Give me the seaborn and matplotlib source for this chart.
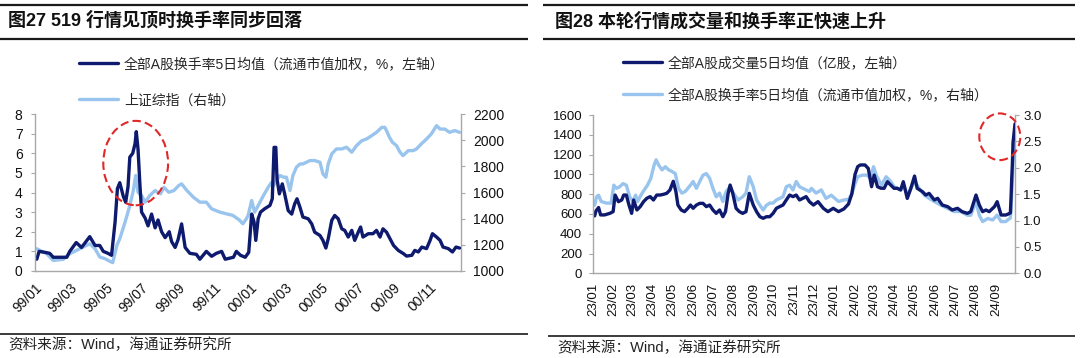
import numpy as np
import pandas as pd
import matplotlib
matplotlib.use("Agg")
import matplotlib.pyplot as plt
import matplotlib.dates as mdates
from matplotlib.patches import Ellipse
from matplotlib.lines import Line2D
import seaborn as sns

# ---------------- data: left panel (1999-2000) ----------------
left_turn_dates = [
    "1999-01-04", "1999-01-08", "1999-01-18", "1999-01-26", "1999-02-01", "1999-02-24",
    "1999-03-01", "1999-03-12", "1999-03-21", "1999-04-04", "1999-04-13", "1999-04-21",
    "1999-04-27", "1999-05-05", "1999-05-11", "1999-05-17", "1999-05-21", "1999-05-25",
    "1999-05-31", "1999-06-04", "1999-06-08", "1999-06-11", "1999-06-16", "1999-06-20",
    "1999-06-22", "1999-06-25", "1999-06-28", "1999-07-01", "1999-07-07", "1999-07-12",
    "1999-07-18", "1999-07-24", "1999-07-29", "1999-08-04", "1999-08-10", "1999-08-17",
    "1999-08-21", "1999-08-27", "1999-09-01", "1999-09-07", "1999-09-13", "1999-09-21",
    "1999-10-02", "1999-10-08", "1999-10-19", "1999-10-28", "1999-11-05", "1999-11-14",
    "1999-11-20", "1999-12-04", "1999-12-09", "1999-12-16", "1999-12-24", "1999-12-30",
    "2000-01-04", "2000-01-08", "2000-01-11", "2000-01-15", "2000-01-19", "2000-01-26",
    "2000-02-04", "2000-02-08", "2000-02-11", "2000-02-14", "2000-02-16", "2000-02-20",
    "2000-02-25", "2000-02-29", "2000-03-06", "2000-03-12", "2000-03-17", "2000-03-21",
    "2000-03-26", "2000-03-31", "2000-04-09", "2000-04-15", "2000-04-20", "2000-04-29",
    "2000-05-04", "2000-05-09", "2000-05-13", "2000-05-19", "2000-05-24", "2000-05-30",
    "2000-06-05", "2000-06-10", "2000-06-16", "2000-06-22", "2000-06-27", "2000-07-03",
    "2000-07-07", "2000-07-11", "2000-07-20", "2000-07-28", "2000-08-03", "2000-08-09",
    "2000-08-14", "2000-08-20", "2000-08-26", "2000-09-01", "2000-09-09", "2000-09-18",
    "2000-09-23", "2000-10-02", "2000-10-07", "2000-10-13", "2000-10-19", "2000-10-27",
    "2000-11-02", "2000-11-06", "2000-11-13", "2000-11-19", "2000-11-24", "2000-12-03",
    "2000-12-10", "2000-12-16", "2000-12-22",
]
left_turn_values = [
    0.6, 1.0, 0.95, 0.9, 0.7, 0.7,
    1.0, 1.45, 1.2, 1.75, 1.3, 1.3,
    1.0, 0.9, 0.8, 2.5, 4.2, 4.5,
    3.8, 3.5, 4.3, 5.8, 6.0, 6.5,
    7.1, 6.2, 4.5, 3.0, 2.7, 2.3,
    2.9, 2.2, 2.6, 2.0, 1.7, 2.0,
    1.5, 1.2, 1.6, 2.4, 1.2, 0.9,
    0.85, 0.6, 1.0, 0.75, 0.9, 1.0,
    0.6, 0.7, 1.0, 0.8, 0.7, 0.95,
    2.9, 2.5, 1.56, 2.66, 3.0, 3.17,
    3.34, 3.68, 6.3, 6.3, 4.7, 3.93,
    4.44, 3.93, 3.08, 2.9, 3.42, 3.68,
    3.25, 2.75, 2.66, 2.4, 1.98, 1.81,
    1.56, 1.17, 1.64, 2.58, 2.83, 2.66,
    2.15, 2.07, 1.73, 2.07, 1.56, 1.98,
    2.24, 1.73, 1.9, 1.9, 2.07, 1.73,
    2.15, 1.98, 1.64, 1.3, 1.05, 0.88,
    0.76, 0.8, 1.05, 0.97, 1.22, 1.14,
    1.56, 1.9, 1.73, 1.56, 1.22, 1.14,
    0.97, 1.22, 1.17,
]
left_index_dates = [
    "1999-01-04", "1999-01-09", "1999-01-21", "1999-01-29", "1999-02-01", "1999-02-18",
    "1999-03-01", "1999-03-18", "1999-04-04", "1999-04-13", "1999-04-21", "1999-04-30",
    "1999-05-08", "1999-05-13", "1999-05-20", "1999-05-25", "1999-06-03", "1999-06-11",
    "1999-06-17", "1999-06-21", "1999-06-25", "1999-07-01", "1999-07-07", "1999-07-15",
    "1999-07-24", "1999-08-02", "1999-08-08", "1999-08-16", "1999-08-25", "1999-09-02",
    "1999-09-07", "1999-09-16", "1999-09-27", "1999-10-08", "1999-10-19", "1999-10-28",
    "1999-11-11", "1999-11-22", "1999-12-03", "1999-12-14", "1999-12-20", "1999-12-26",
    "1999-12-29", "2000-01-04", "2000-01-09", "2000-01-15", "2000-01-24", "2000-02-01",
    "2000-02-07", "2000-02-10", "2000-02-15", "2000-02-21", "2000-02-27", "2000-03-03",
    "2000-03-09", "2000-03-14", "2000-03-20", "2000-03-26", "2000-03-31", "2000-04-06",
    "2000-04-12", "2000-04-20", "2000-04-29", "2000-05-04", "2000-05-09", "2000-05-13",
    "2000-05-19", "2000-05-27", "2000-06-05", "2000-06-13", "2000-06-22", "2000-06-30",
    "2000-07-09", "2000-07-17", "2000-07-26", "2000-08-03", "2000-08-12", "2000-08-17",
    "2000-08-20", "2000-08-25", "2000-08-30", "2000-09-06", "2000-09-12", "2000-09-17",
    "2000-09-26", "2000-10-04", "2000-10-10", "2000-10-18", "2000-10-27", "2000-11-04",
    "2000-11-13", "2000-11-19", "2000-11-27", "2000-12-05", "2000-12-14", "2000-12-22",
]
left_index_values = [
    1170, 1158, 1132, 1094, 1081, 1089,
    1132, 1170, 1208, 1170, 1107, 1094,
    1074, 1064, 1196, 1247, 1374, 1500,
    1615, 1730, 1602, 1577, 1526, 1577,
    1615, 1590, 1640, 1602, 1615, 1653,
    1666, 1615, 1564, 1526, 1526, 1475,
    1450, 1437, 1425, 1390, 1361, 1399,
    1425, 1539, 1450, 1500, 1577, 1640,
    1679, 1653, 1691, 1730, 1717, 1717,
    1615, 1730, 1793, 1818, 1818, 1831,
    1844, 1844, 1831, 1742, 1717, 1818,
    1895, 1933, 1933, 1946, 1908, 1958,
    1996, 2009, 2035, 2060, 2098, 2098,
    2073, 2022, 1984, 1958, 1908, 1882,
    1920, 1920, 1933, 1971, 2009, 2047,
    2111, 2085, 2085, 2060, 2073, 2060,
]
left_tick_dates = ["1999-01-01", "1999-03-01", "1999-05-01", "1999-07-01", "1999-09-01",
                   "1999-11-01", "2000-01-01", "2000-03-01", "2000-05-01", "2000-07-01",
                   "2000-09-01", "2000-11-01"]
left_tick_labels = ["99/01", "99/03", "99/05", "99/07", "99/09", "99/11",
                    "00/01", "00/03", "00/05", "00/07", "00/09", "00/11"]

# ---------------- data: right panel (2023-2024) ----------------
right_vol_dates = [
    "2023-01-03", "2023-01-05", "2023-01-09", "2023-01-12", "2023-01-18", "2023-01-26",
    "2023-01-31", "2023-02-03", "2023-02-08", "2023-02-13", "2023-02-16", "2023-02-20",
    "2023-02-24", "2023-02-28", "2023-03-03", "2023-03-08", "2023-03-13", "2023-03-18",
    "2023-03-23", "2023-03-28", "2023-04-02", "2023-04-07", "2023-04-12", "2023-04-17",
    "2023-04-22", "2023-04-27", "2023-05-02", "2023-05-06", "2023-05-09", "2023-05-14",
    "2023-05-19", "2023-05-24", "2023-05-28", "2023-06-01", "2023-06-06", "2023-06-11",
    "2023-06-16", "2023-06-21", "2023-06-26", "2023-07-01", "2023-07-06", "2023-07-11",
    "2023-07-16", "2023-07-20", "2023-07-24", "2023-07-27", "2023-07-31", "2023-08-05",
    "2023-08-10", "2023-08-15", "2023-08-20", "2023-08-25", "2023-08-31", "2023-09-05",
    "2023-09-10", "2023-09-15", "2023-09-20", "2023-09-25", "2023-09-30", "2023-10-05",
    "2023-10-10", "2023-10-15", "2023-10-20", "2023-10-25", "2023-10-30", "2023-11-04",
    "2023-11-09", "2023-11-14", "2023-11-19", "2023-11-24", "2023-11-30", "2023-12-07",
    "2023-12-15", "2023-12-22", "2023-12-30", "2024-01-07", "2024-01-15", "2024-01-22",
    "2024-01-27", "2024-02-01", "2024-02-05", "2024-02-09", "2024-02-16", "2024-02-21",
    "2024-02-26", "2024-03-01", "2024-03-06", "2024-03-11", "2024-03-16", "2024-03-21",
    "2024-03-26", "2024-03-31", "2024-04-05", "2024-04-10", "2024-04-14", "2024-04-20",
    "2024-04-25", "2024-05-01", "2024-05-05", "2024-05-13", "2024-05-18", "2024-05-23",
    "2024-05-31", "2024-06-05", "2024-06-12", "2024-06-20", "2024-06-27", "2024-07-05",
    "2024-07-12", "2024-07-20", "2024-07-25", "2024-08-02", "2024-08-07", "2024-08-12",
    "2024-08-17", "2024-08-22", "2024-08-30", "2024-09-03", "2024-09-09", "2024-09-16",
    "2024-09-20", "2024-09-23", "2024-09-24", "2024-09-25", "2024-09-26", "2024-09-27",
    "2024-09-30",
]
right_vol_values = [
    580, 630, 665, 590, 590, 606,
    623, 791, 724, 741, 791, 791,
    690, 606, 740, 640, 674, 724,
    758, 775, 741, 791, 791, 798,
    808, 842, 930, 825, 690, 640,
    623, 657, 690, 657, 690, 707,
    707, 674, 690, 640, 606, 640,
    572, 623, 808, 892, 808, 657,
    623, 606, 623, 808, 690, 623,
    572, 556, 572, 572, 606, 657,
    674, 690, 741, 791, 775, 791,
    741, 758, 775, 724, 690, 724,
    657, 623, 657, 623, 650, 700,
    800, 1000, 1078, 1095, 1095, 1060,
    875, 993, 875, 860, 859, 926,
    892, 859, 859, 842, 926, 757,
    850, 983, 859, 825, 791, 808,
    741, 758, 690, 674, 640, 657,
    623, 606, 623, 791, 690, 623,
    640, 623, 674, 724, 589, 589,
    600, 610, 760, 950, 1100, 1320,
    1510,
]
right_turn_dates = [
    "2023-01-03", "2023-01-06", "2023-01-09", "2023-01-13", "2023-01-21", "2023-01-28",
    "2023-02-01", "2023-02-05", "2023-02-10", "2023-02-15", "2023-02-20", "2023-02-25",
    "2023-03-02", "2023-03-06", "2023-03-09", "2023-03-14", "2023-03-19", "2023-03-24",
    "2023-03-29", "2023-04-03", "2023-04-06", "2023-04-10", "2023-04-15", "2023-04-20",
    "2023-04-25", "2023-04-30", "2023-05-05", "2023-05-10", "2023-05-15", "2023-05-20",
    "2023-05-28", "2023-06-01", "2023-06-06", "2023-06-11", "2023-06-16", "2023-06-21",
    "2023-06-26", "2023-07-01", "2023-07-06", "2023-07-11", "2023-07-16", "2023-07-21",
    "2023-07-27", "2023-08-01", "2023-08-08", "2023-08-15", "2023-08-20", "2023-08-25",
    "2023-08-31", "2023-09-05", "2023-09-10", "2023-09-15", "2023-09-20", "2023-09-25",
    "2023-09-30", "2023-10-05", "2023-10-10", "2023-10-15", "2023-10-20", "2023-10-25",
    "2023-10-30", "2023-11-04", "2023-11-09", "2023-11-14", "2023-11-19", "2023-11-24",
    "2023-11-27", "2023-12-04", "2023-12-12", "2023-12-19", "2023-12-27", "2024-01-07",
    "2024-01-15", "2024-01-22", "2024-01-27", "2024-02-01", "2024-02-05", "2024-02-12",
    "2024-02-19", "2024-02-24", "2024-02-29", "2024-03-04", "2024-03-12", "2024-03-19",
    "2024-03-26", "2024-03-31", "2024-04-10", "2024-04-15", "2024-04-20", "2024-05-01",
    "2024-05-08", "2024-05-16", "2024-05-23", "2024-05-31", "2024-06-10", "2024-06-20",
    "2024-06-30", "2024-07-10", "2024-07-20", "2024-07-25", "2024-08-02", "2024-08-07",
    "2024-08-12", "2024-08-20", "2024-08-27", "2024-09-03", "2024-09-09", "2024-09-16",
    "2024-09-20", "2024-09-23", "2024-09-24", "2024-09-25", "2024-09-26", "2024-09-27",
    "2024-09-30",
]
right_turn_values = [
    1.29, 1.45, 1.48, 1.36, 1.33, 1.33,
    1.67, 1.61, 1.64, 1.70, 1.67, 1.45,
    1.36, 1.48, 1.36, 1.48, 1.58, 1.67,
    1.80, 2.05, 2.15, 2.05, 1.96, 2.02,
    1.96, 1.93, 1.89, 1.61, 1.52, 1.55,
    1.67, 1.74, 1.61, 1.74, 1.86, 1.89,
    1.80, 1.61, 1.45, 1.52, 1.36, 1.55,
    1.64, 1.52, 1.39, 1.45, 1.52, 1.83,
    1.64, 1.39, 1.29, 1.20, 1.29, 1.33,
    1.33, 1.39, 1.42, 1.45, 1.64, 1.67,
    1.58, 1.74, 1.64, 1.61, 1.58, 1.55,
    1.61, 1.52, 1.58, 1.42, 1.48, 1.36,
    1.39, 1.40, 1.50, 1.70, 1.83, 1.86,
    1.86, 1.80, 2.02, 1.86, 1.67, 1.83,
    1.74, 1.64, 1.58, 1.67, 1.48, 1.74,
    1.61, 1.48, 1.42, 1.36, 1.29, 1.23,
    1.17, 1.17, 1.10, 1.10, 1.36, 1.10,
    0.98, 1.04, 1.01, 1.10, 0.98, 0.98,
    1.02, 1.05, 1.20, 1.50, 1.75, 2.10,
    2.45,
]
right_tick_dates = [f"{y}-{m:02d}-01" for y, m in
                    [(2023, i) for i in range(1, 13)] + [(2024, i) for i in range(1, 10)]]
right_tick_labels = ["23/01", "23/02", "23/03", "23/04", "23/05", "23/06", "23/07",
                     "23/08", "23/09", "23/10", "23/11", "23/12", "24/01", "24/02",
                     "24/03", "24/04", "24/05", "24/06", "24/07", "24/08", "24/09"]

left_title = "图27 519 行情见顶时换手率同步回落"
right_title = "图28 本轮行情成交量和换手率正快速上升"
left_legend = ["全部A股换手率5日均值（流通市值加权，%，左轴）", "上证综指（右轴）"]
right_legend = ["全部A股成交量5日均值（亿股，左轴）", "全部A股换手率5日均值（流通市值加权，%，右轴）"]
source_text = "资料来源：Wind，海通证券研究所"

# ---------------- style ----------------
sns.set_style("white")
plt.rcParams["font.family"] = ["Liberation Sans", "Noto Sans CJK SC"]
plt.rcParams["axes.unicode_minus"] = False

DARK = "#0D1A6E"
LIGHT = "#98C4EE"
SPINE = "#A8A8A8"
RED = "#E02828"
W, H = 1080, 358

fig = plt.figure(figsize=(W / 100, H / 100), dpi=100)
fig.patch.set_facecolor("white")


def fx(px):
    return px / W


def fy(py):
    return 1 - py / H


def hline(x0, x1, y, lw):
    fig.add_artist(Line2D([fx(x0), fx(x1)], [fy(y), fy(y)], transform=fig.transFigure,
                          color="#1a1a1a", lw=lw, solid_capstyle="butt"))


def style_axes(ax, ax2, tick_fs):
    for s in ["top", "right"]:
        ax.spines[s].set_visible(False)
    for s in ["top", "left", "bottom"]:
        ax2.spines[s].set_visible(False)
    for a, sides in [(ax, ["left", "bottom"]), (ax2, ["right"])]:
        for s in sides:
            a.spines[s].set_color(SPINE)
            a.spines[s].set_linewidth(1.0)
    ax.tick_params(axis="both", which="both", direction="out", length=3, width=0.8,
                   color=SPINE, labelsize=tick_fs, labelcolor="#111111")
    ax2.tick_params(axis="y", direction="out", length=3, width=0.8, color=SPINE,
                    labelsize=tick_fs, labelcolor="#111111")
    ax.set_xlabel("")
    ax.set_ylabel("")
    ax2.set_xlabel("")
    ax2.set_ylabel("")
    ax.set_zorder(ax2.get_zorder() + 1)
    ax.patch.set_visible(False)
    ax2.grid(False)
    ax.grid(False)


# ================= LEFT PANEL =================
dfL1 = pd.DataFrame({"date": pd.to_datetime(left_turn_dates), "v": left_turn_values})
dfL2 = pd.DataFrame({"date": pd.to_datetime(left_index_dates), "v": left_index_values})

axL = fig.add_axes([fx(35), fy(271), fx(460.7) - fx(35), (271 - 114) / H])
axL2 = axL.twinx()
sns.lineplot(data=dfL2, x="date", y="v", ax=axL2, color=LIGHT, lw=2.4, legend=False)
sns.lineplot(data=dfL1, x="date", y="v", ax=axL, color=DARK, lw=2.4, legend=False)

axL.set_xlim(pd.Timestamp("1999-01-01"), pd.Timestamp("2000-12-24"))
axL.set_ylim(0, 8)
axL.set_yticks(range(0, 9))
axL2.set_ylim(1000, 2200)
axL2.set_yticks(range(1000, 2201, 200))
axL.set_xticks(pd.to_datetime(left_tick_dates))
axL.set_xticklabels(left_tick_labels, rotation=45, ha="right", rotation_mode="anchor")
style_axes(axL, axL2, 10)
axL.tick_params(axis="x", pad=4)
axL.tick_params(axis="y", pad=6)
axL2.tick_params(axis="y", pad=6)

cL = mdates.date2num(pd.Timestamp("1999-06-21"))
axL.add_patch(Ellipse((cL, 5.5), width=110, height=4.3, fill=False, edgecolor=RED,
                      lw=1.5, linestyle=(0, (4, 2)), zorder=10, clip_on=False))

hL = [axL.get_lines()[0], axL2.get_lines()[0]]
fig.legend(hL, left_legend, loc="upper left", bbox_to_anchor=(fx(79), fy(57)),
           frameon=False, fontsize=10, handlelength=2.8, handletextpad=0.45,
           labelspacing=1.6, borderpad=0, borderaxespad=0)

# ================= RIGHT PANEL =================
dfR1 = pd.DataFrame({"date": pd.to_datetime(right_vol_dates), "v": right_vol_values})
dfR2 = pd.DataFrame({"date": pd.to_datetime(right_turn_dates), "v": right_turn_values})

axR = fig.add_axes([fx(593.3), fy(273.3), fx(1015) - fx(593.3), (273.3 - 115) / H])
axR2 = axR.twinx()
sns.lineplot(data=dfR2, x="date", y="v", ax=axR2, color=LIGHT, lw=2.4, legend=False)
sns.lineplot(data=dfR1, x="date", y="v", ax=axR, color=DARK, lw=2.4, legend=False)

axR.set_xlim(pd.Timestamp("2023-01-01"), pd.Timestamp("2024-09-30"))
axR.set_ylim(0, 1600)
axR.set_yticks(range(0, 1601, 200))
axR2.set_ylim(0, 3.0)
axR2.set_yticks(np.arange(0, 3.01, 0.5))
axR2.yaxis.set_major_formatter(matplotlib.ticker.FormatStrFormatter("%.1f"))
axR.set_xticks(pd.to_datetime(right_tick_dates))
axR.set_xticklabels(right_tick_labels, rotation=90, ha="center", va="top")
style_axes(axR, axR2, 9.5)
axR.tick_params(axis="x", pad=4)
axR.tick_params(axis="y", pad=5)
axR2.tick_params(axis="y", pad=3)

cR = mdates.date2num(pd.Timestamp("2024-09-07"))
axR.add_patch(Ellipse((cR, 1380), width=62, height=472, fill=False, edgecolor=RED,
                      lw=1.5, linestyle=(0, (4, 2)), zorder=10, clip_on=False))

hR = [axR.get_lines()[0], axR2.get_lines()[0]]
fig.legend(hR, right_legend, loc="upper left", bbox_to_anchor=(fx(623), fy(56)),
           frameon=False, fontsize=10, handlelength=2.8, handletextpad=0.45,
           labelspacing=1.3, borderpad=0, borderaxespad=0)

# ================= titles, rules, sources =================
hline(0, 528, 4.5, 1.6)
hline(0, 528, 39, 1.6)
hline(0, 528, 334, 1.2)
hline(543, 1075, 4.5, 1.6)
hline(543, 1075, 39, 1.6)
hline(548, 1075, 336, 1.2)

fig.text(fx(8), fy(20), left_title, fontsize=13, fontweight="bold", ha="left",
         va="center", color="#111111")
fig.text(fx(555), fy(21), right_title, fontsize=13, fontweight="bold", ha="left",
         va="center", color="#111111")
fig.text(fx(8), fy(345), source_text, fontsize=10.5, ha="left", va="center",
         color="#222222")
fig.text(fx(557), fy(348), source_text, fontsize=10.5, ha="left", va="center",
         color="#222222")

fig.savefig("out.png", dpi=100, facecolor="white")
